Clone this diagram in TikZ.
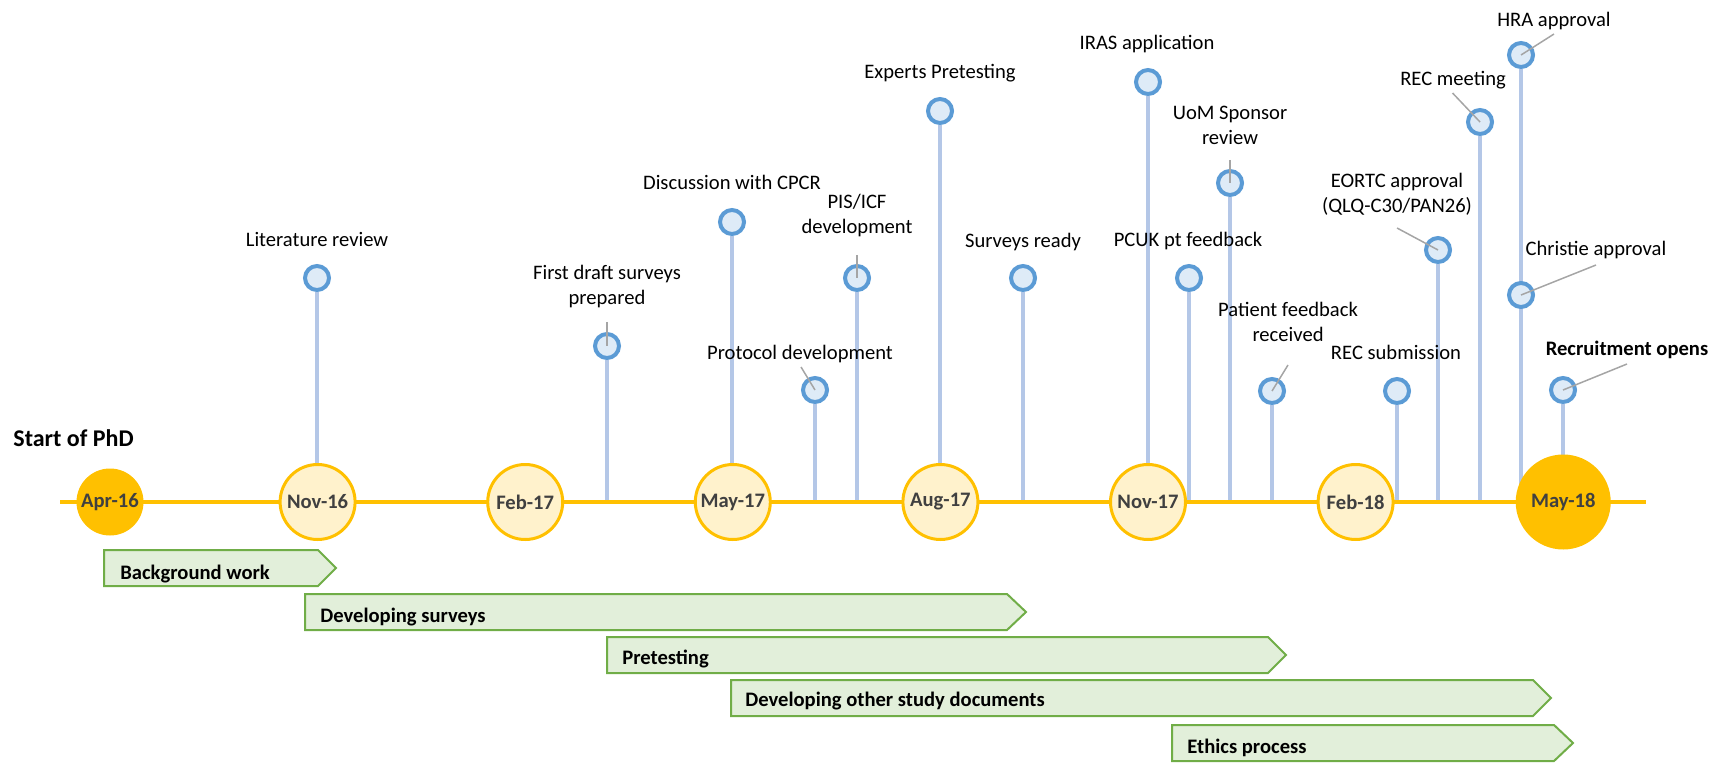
\documentclass[tikz,border=0pt]{standalone}
\usepackage{fontspec}
\setmainfont{Carlito}
\usetikzlibrary{backgrounds}

\definecolor{gold}{HTML}{FFC000}
\definecolor{cream}{HTML}{FFF2CC}
\definecolor{monthtext}{HTML}{404040}
\definecolor{ringblue}{HTML}{5B9BD5}
\definecolor{paleblue}{HTML}{DEEBF7}
\definecolor{stemblue}{HTML}{B4C7E7}
\definecolor{leadergray}{HTML}{A5A5A5}
\definecolor{barfill}{HTML}{E2EFDA}
\definecolor{barline}{HTML}{70AD47}

\tikzset{
  txt/.style={font=\fontsize{10.3}{12.5}\selectfont, text=black, inner sep=0pt},
  lbl/.style={txt, anchor=base},
  lbltwo/.style={txt, align=center, anchor=center},
  month/.style={circle, draw=gold, fill=cream, line width=1.5pt, minimum size=37.5pt, inner sep=0pt,
    font=\bfseries\fontsize{10.3}{12.5}\selectfont, text=monthtext},
  monthbig/.style={month, fill=gold},
  event/.style={circle, draw=ringblue, fill=paleblue, line width=2pt, minimum size=12pt, inner sep=0pt},
  stem/.style={draw=stemblue, line width=1.75pt},
  leader/.style={draw=leadergray, line width=0.75pt},
  axis/.style={draw=gold, line width=2pt},
  bar/.style={draw=barline, fill=barfill, line width=1pt, line join=miter},
  bartext/.style={font=\bfseries\fontsize{10.3}{12.5}\selectfont, text=black, inner sep=0pt, anchor=base west},
}

\begin{document}
\begin{tikzpicture}[x=0.5pt, y=-0.5pt]
\useasboundingbox (0,0) rectangle (1716,764);

% ---- time axis ----
\coordinate (axL) at (60,502);
\coordinate (axR) at (1646,502);
\draw[axis] (axL) -- (axR);

% ---- month markers ----
\node[monthbig, minimum size=32pt] (apr16) at (110,502) {Apr-16};
\node[month] (nov16) at (317.6,502) {Nov-16};
\node[month] (feb17) at (525.2,502) {Feb-17};
\node[month] (may17) at (732.8,502) {May-17};
\node[month] (aug17) at (940.4,502) {Aug-17};
\node[month] (nov17) at (1148,502) {Nov-17};
\node[month] (feb18) at (1355.6,502) {Feb-18};
\node[monthbig, minimum size=46pt] (may18) at (1563.2,502) {May-18};

\node[font=\bfseries\fontsize{12}{14}\selectfont, inner sep=0pt, anchor=base west] (start) at (13,446) {Start of PhD};

% ---- milestones ----
\node[event] (e1) at (317,278) {};
\node[event] (e2) at (607,346) {};
\node[event] (e3) at (732,222) {};
\node[event] (e4) at (815,390) {};
\node[event] (e5) at (857,278) {};
\node[event] (e6) at (940,111) {};
\node[event] (e7) at (1023,278) {};
\node[event] (e8) at (1148,82) {};
\node[event] (e9) at (1189,278) {};
\node[event] (e10) at (1230,183) {};
\node[event] (e11) at (1272,391) {};
\node[event] (e12) at (1397,391) {};
\node[event] (e13) at (1438,250) {};
\node[event] (e14) at (1480,122) {};
\node[event] (e15) at (1521,55) {};
\node[event] (e16) at (1521,295) {};
\node[event] (e17) at (1563,390) {};

% stems down to the axis
\foreach \e/\x in {e1/317,e2/607,e3/732,e4/815,e5/857,e6/940,e7/1023,e8/1148,e9/1189,
                   e10/1230,e11/1272,e12/1397,e13/1438,e14/1480,e15/1521,e17/1563}{
  \coordinate (a\e) at (\x,502);
}
\begin{scope}[on background layer]
  \foreach \e in {e1,e2,e3,e4,e5,e6,e7,e8,e9,e10,e11,e12,e13,e14,e15,e17}{
    \draw[stem] (\e.south) -- (a\e);
  }
\end{scope}

% milestone labels
\node[lbl] (l1) at (317,247) {Literature review};
\node[lbltwo] (l2) at (607,286.5) {First draft surveys\\prepared};
\node[lbl] (l3) at (732,190) {Discussion with CPCR};
\node[lbl] (l4) at (800,359) {Protocol development};
\node[lbltwo] (l5) at (857,216) {PIS/ICF\\development};
\node[lbl] (l6) at (940,79) {Experts Pretesting};
\node[lbl] (l7) at (1023,248) {Surveys ready};
\node[lbl] (l8) at (1147,50) {IRAS application};
\node[lbl] (l9) at (1188,247) {PCUK pt feedback};
\node[lbltwo] (l10) at (1230,125.5) {UoM Sponsor\\review};
\node[lbltwo] (l11) at (1288,322) {Patient feedback\\received};
\node[lbl] (l12) at (1396,359) {REC submission};
\node[lbltwo] (l13) at (1397,194.5) {EORTC approval\\(QLQ-C30/PAN26)};
\node[lbl] (l14) at (1453,86) {REC meeting};
\node[lbl] (l15) at (1554,27) {HRA approval};
\node[lbl] (l16) at (1596,256) {Christie approval};
\node[lbl, font=\bfseries\fontsize{10.3}{12.5}\selectfont] (l17) at (1627,356) {Recruitment opens};

% leader lines from labels to milestones
\coordinate (k2) at (607,322);
\coordinate (k4) at (801,367);
\coordinate (k5) at (857,255);
\coordinate (k10) at (1230,160);
\coordinate (k11) at (1288,365);
\coordinate (k13) at (1397,228);
\coordinate (k14) at (1452.5,93);
\coordinate (k15) at (1554,34);
\coordinate (k16) at (1596,265);
\coordinate (k17) at (1627,364);
\foreach \k in {2,4,5,10,11,13,14,15,16,17}{
  \draw[leader] (k\k) -- (e\k.center);
}

% ---- phases ----
\draw[bar] (104,550) -- (318,550) -- (336,568) -- (318,586) -- (104,586) -- cycle;
\node[bartext] (p1) at (120,579) {Background work};
\draw[bar] (305,594) -- (1007,594) -- (1026,612) -- (1007,630) -- (305,630) -- cycle;
\node[bartext] (p2) at (320,622) {Developing surveys};
\draw[bar] (607,637) -- (1268,637) -- (1286,655) -- (1268,673) -- (607,673) -- cycle;
\node[bartext] (p3) at (622,664) {Pretesting};
\draw[bar] (731,680) -- (1533,680) -- (1551,698) -- (1533,716) -- (731,716) -- cycle;
\node[bartext] (p4) at (745,706) {Developing other study documents};
\draw[bar] (1172,725) -- (1554,725) -- (1573,743) -- (1554,761) -- (1172,761) -- cycle;
\node[bartext] (p5) at (1187,753) {Ethics process};

\end{tikzpicture}
\end{document}
